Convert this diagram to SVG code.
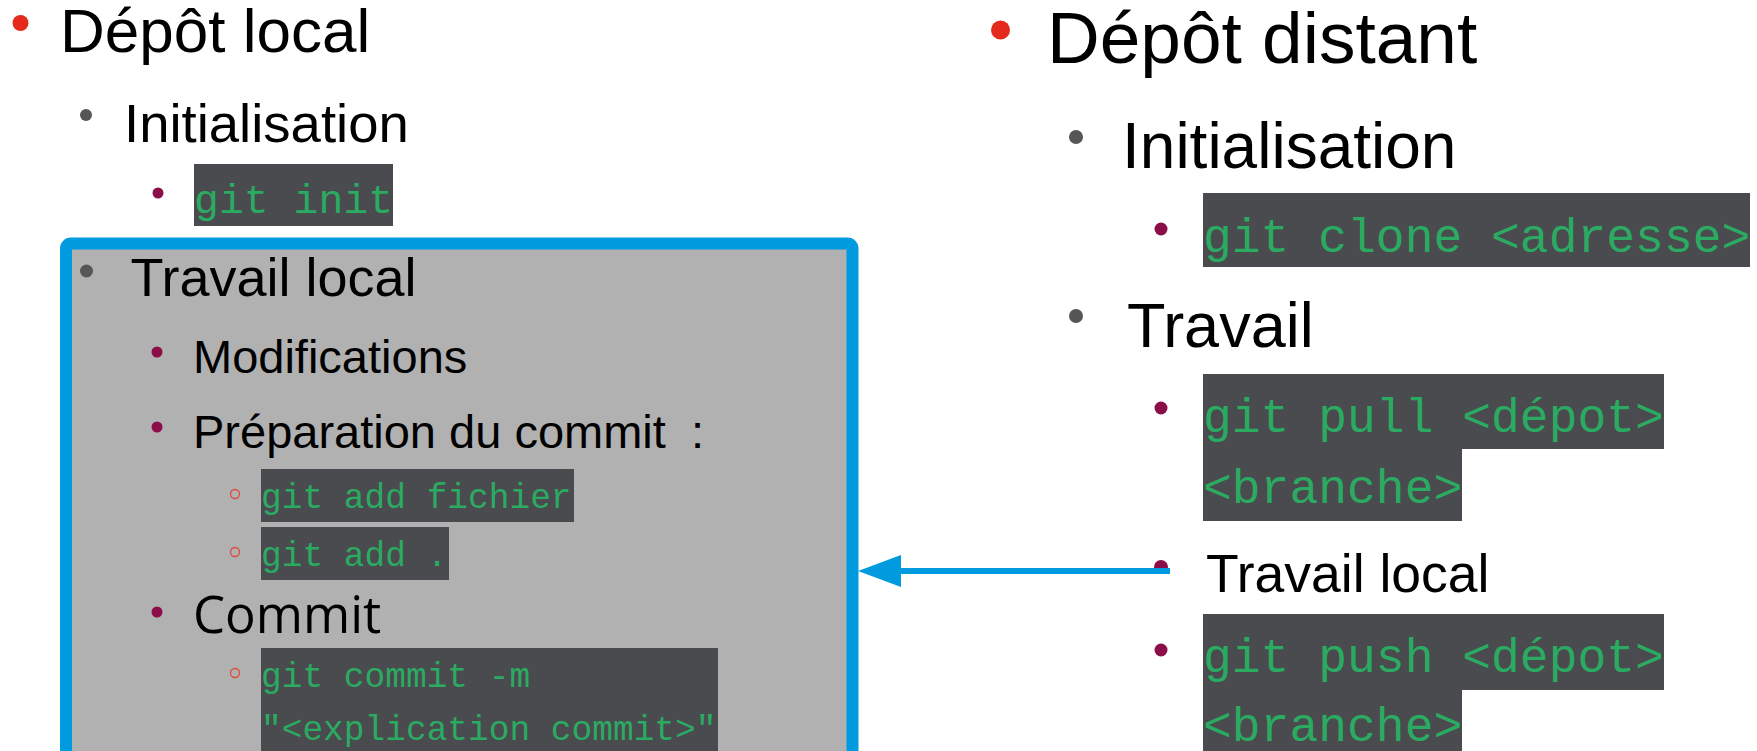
<svg xmlns="http://www.w3.org/2000/svg" width="1757" height="751" viewBox="0 0 1757 751">
  <style>
    .t { font-family: "Liberation Sans", Arial, sans-serif; fill: #000; }
    .alt { font-family: "Open Sans", "Noto Sans", sans-serif; fill: #000; }
    .code { font-family: "Liberation Mono", "Courier New", monospace; fill: #2BAA62; }
    .codebg { fill: #4A4B4F; }
    .b1 { fill: #E42A1D; }
    .b2 { fill: #565658; }
    .b3 { fill: #8C0E48; }
    .b4 { fill: none; stroke: #E2483A; stroke-width: 1.3; }
    .conn { fill: none; stroke: #009ADE; stroke-width: 6; }
  </style>
  <defs>
    <marker id="head" markerUnits="userSpaceOnUse" markerWidth="43" markerHeight="32" viewBox="0 0 43 32" refX="0" refY="16" orient="auto">
      <path d="M0,0 L43,16 L0,32 z" fill="#009ADE"/>
    </marker>
  </defs>

  <rect width="1757" height="751" fill="#FFFFFF"/>

  <!-- Local repository column -->
  <g id="depot-local">
    <circle class="b1" cx="20.5" cy="23" r="8"/>
    <text class="t" x="60" y="52" font-size="62">Dépôt local</text>
  </g>

  <g id="local-init">
    <circle class="b2" cx="86" cy="115" r="6"/>
    <text class="t" x="124" y="142" font-size="54.5">Initialisation</text>
  </g>

  <g id="git-init">
    <circle class="b3" cx="158" cy="193" r="5.5"/>
    <rect class="codebg" x="194" y="164" width="199" height="62"/>
    <text class="code" x="194" y="213" font-size="41.5">git init</text>
  </g>

  <!-- Highlighted "Travail local" block -->
  <g id="travail-local">
    <rect x="66" y="243.5" width="786.5" height="560" rx="5" fill="#B1B1B1" stroke="#009ADE" stroke-width="12"/>
    <circle class="b2" cx="86.5" cy="271" r="6.5"/>
    <text class="t" x="130.5" y="296" font-size="54">Travail local</text>

    <g id="modifications">
      <circle class="b3" cx="157" cy="352" r="5.5"/>
      <text class="t" x="193" y="373" font-size="47">Modifications</text>
    </g>

    <g id="preparation">
      <circle class="b3" cx="157" cy="427" r="5.5"/>
      <text class="t" x="193" y="448" font-size="47">Préparation du commit</text>
      <text class="t" x="691" y="448" font-size="47">:</text>
      <circle class="b4" cx="235" cy="494" r="4.5"/>
      <rect class="codebg" x="261" y="469" width="313" height="53"/>
      <text class="code" x="261" y="508" font-size="34.5">git add fichier</text>
      <circle class="b4" cx="235" cy="552" r="4.5"/>
      <rect class="codebg" x="261" y="527" width="188" height="53"/>
      <text class="code" x="261" y="566" font-size="34.5">git add .</text>
    </g>

    <g id="commit">
      <circle class="b3" cx="157" cy="612" r="5.5"/>
      <text class="alt" x="193" y="633" font-size="51">Commit</text>
      <circle class="b4" cx="235" cy="673" r="4.5"/>
      <rect class="codebg" x="261" y="648" width="457" height="110"/>
      <text class="code" x="261" y="687" font-size="34.5">git commit -m</text>
      <text class="code" x="261" y="740" font-size="34.5">"&lt;explication commit&gt;"</text>
    </g>
  </g>

  <!-- Remote repository column -->
  <g id="depot-distant">
    <circle class="b1" cx="1000.5" cy="30" r="9.5"/>
    <text class="t" x="1047" y="63" font-size="73">Dépôt distant</text>
  </g>

  <g id="remote-init">
    <circle class="b2" cx="1076" cy="137" r="7"/>
    <text class="t" x="1122" y="168" font-size="64">Initialisation</text>
    <circle class="b3" cx="1161" cy="229" r="6.5"/>
    <rect class="codebg" x="1203" y="193" width="547" height="74"/>
    <text class="code" x="1203" y="252" font-size="48">git clone &lt;adresse&gt;</text>
  </g>

  <g id="remote-work">
    <circle class="b2" cx="1076" cy="316" r="7"/>
    <text class="t" x="1127" y="347" font-size="63">Travail</text>

    <g id="git-pull">
      <circle class="b3" cx="1161" cy="408" r="6.5"/>
      <rect class="codebg" x="1203" y="374" width="461" height="75"/>
      <rect class="codebg" x="1203" y="448" width="259" height="73"/>
      <text class="code" x="1203" y="432" font-size="48">git pull &lt;dépot&gt;</text>
      <text class="code" x="1203" y="503" font-size="48">&lt;branche&gt;</text>
    </g>

    <g id="remote-local">
      <circle class="b3" cx="1161" cy="567" r="7"/>
      <text class="t" x="1206" y="592" font-size="53.5">Travail local</text>
    </g>

    <g id="git-push">
      <circle class="b3" cx="1161" cy="650" r="6.5"/>
      <rect class="codebg" x="1203" y="614" width="461" height="76"/>
      <rect class="codebg" x="1203" y="689" width="259" height="70"/>
      <text class="code" x="1203" y="672" font-size="48">git push &lt;dépot&gt;</text>
      <text class="code" x="1203" y="741" font-size="48">&lt;branche&gt;</text>
    </g>
  </g>

  <!-- Connectors -->
  <g id="connectors">
    <path class="conn" d="M1170,571 H901" marker-end="url(#head)"/>
  </g>
</svg>
